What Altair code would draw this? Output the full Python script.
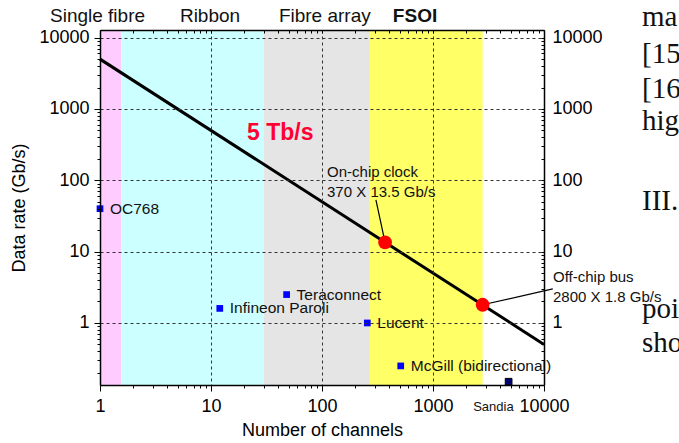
import altair as alt
import pandas as pd

# ---------------- data ----------------
band_start = [1, 1.55, 30, 270]
band_end = [1.55, 30, 270, 2800]
band_color = ["#FFCCFF", "#CCFFFF", "#E5E5E5", "#FFFF66"]

header_text = ["Single fibre", "Ribbon", "Fibre array"]
header_x = [0.95, 9.8, 106]
header_bold_text = ["FSOI"]
header_bold_x = [689]
header_y = 20000

line_x = [1, 10000]
line_y = [5000, 0.5]

red_x = [370, 2800]
red_y = [13.5, 1.8]

sys_name = ["OC768", "Infineon Paroli", "Teraconnect", "Lucent", "McGill (bidirectional)"]
sys_x = [1, 12, 48, 256, 512]
sys_y = [40, 1.6, 2.5, 1.0, 0.25]

sandia_name = ["Sandia"]
sandia_x = [4800]
sandia_y = [0.15]

callout_text = ["On-chip clock", "370 X 13.5 Gb/s", "Off-chip bus", "2800 X 1.8 Gb/s"]
callout_x = [111, 111, 12050, 12050]
callout_y = [132, 69, 4.36, 2.29]

leader_x = [306, 12000]
leader_y = [53, 3.0]
leader_x2 = [370, 2800]
leader_y2 = [13.5, 1.8]

big_text = ["5 Tb/s"]
big_x = [21.1]
big_y = [460]

page_text = ["ma", "[15", "[16", "hig", "III.", "poi", "sho"]
page_x = [76400] * 7
page_y = [14500, 4420, 1426, 507, 38.4, 1.17, 0.391]

x_ticks = [m * 10 ** k for k in range(4) for m in range(1, 10)] + [10000]
y_ticks = [round(m * 10 ** k, 6) for k in range(-1, 4) for m in range(1, 10) if m * 10 ** k > 0.135] + [10000]

# ---------------- style ----------------
W, H = 444, 355
FONT = "Liberation Sans"
MAJ = "abs(log(datum.value)/LN10 - round(log(datum.value)/LN10)) < 0.001"
LAB = f"({MAJ}) ? format(datum.value, 'd') : ''"

xs = alt.Scale(type="log", domain=[1, 10000], nice=False)
ys = alt.Scale(type="log", domain=[0.135, 12800], nice=False)

x_bottom = alt.Axis(
    orient="bottom", values=x_ticks, labelExpr=LAB, labelFlush=False,
    tickSize={"condition": {"test": MAJ, "value": 6}, "value": 3},
    grid=True, gridDash=[3, 3], gridColor="#333333", gridWidth=1,
    gridOpacity={"condition": {"test": MAJ, "value": 1}, "value": 0},
    labelPadding=6, title="Number of channels", titlePadding=6, zindex=1,
    domainColor="black", domainWidth=1.5, tickColor="black",
    labelFont=FONT, labelFontSize=18, labelColor="black", labelOverlap=False,
    titleFont=FONT, titleFontSize=18, titleFontWeight="normal", titleColor="black",
)
y_left = alt.Axis(
    orient="left", values=y_ticks, labelExpr=LAB, labelFlush=False,
    tickSize={"condition": {"test": MAJ, "value": 6}, "value": 3},
    grid=True, gridDash=[3, 3], gridColor="#333333", gridWidth=1,
    gridOpacity={"condition": {"test": MAJ, "value": 1}, "value": 0},
    labelPadding=5, title="Data rate (Gb/s)", titlePadding=10, zindex=1,
    domainColor="black", domainWidth=1.5, tickColor="black",
    labelFont=FONT, labelFontSize=18, labelColor="black", labelOverlap=False,
    titleFont=FONT, titleFontSize=18, titleFontWeight="normal", titleColor="black",
)
x_top = alt.Axis(
    orient="top", values=x_ticks, labels=False, grid=False, title=None,
    tickSize=alt.ExprRef(expr="-3"), domainColor="black", domainWidth=1.5,
    tickColor="black", zindex=1,
)
y_right = alt.Axis(
    orient="right", values=y_ticks, labelExpr=LAB, labelFlush=False, grid=False,
    title=None, tickSize=alt.ExprRef(expr="-3"), labelPadding=11,
    domainColor="black", domainWidth=1.5, tickColor="black",
    labelFont=FONT, labelFontSize=18, labelColor="black", labelOverlap=False, zindex=1,
)


def X(field, axis=None):
    return alt.X(field, type="quantitative", scale=xs, axis=axis)


def Y(field, axis=None):
    return alt.Y(field, type="quantitative", scale=ys, axis=axis)


# ---------------- layers ----------------
bands = alt.Chart(pd.DataFrame({"s": band_start, "e": band_end, "c": band_color})).mark_rect().encode(
    x=X("s"), x2="e",
    y=alt.value(0), y2=alt.value(H),
    color=alt.Color("c:N", scale=None),
)

line = alt.Chart(pd.DataFrame({"x": line_x, "y": line_y})).mark_line(
    color="black", strokeWidth=3
).encode(x=X("x", x_bottom), y=Y("y", y_left))

leaders = alt.Chart(pd.DataFrame({"x": leader_x, "y": leader_y, "x2": leader_x2, "y2": leader_y2})).mark_rule(
    color="black", strokeWidth=1.2
).encode(x=X("x", x_top), y=Y("y", y_right), x2="x2", y2="y2")

reds = alt.Chart(pd.DataFrame({"x": red_x, "y": red_y})).mark_circle(
    size=190, color="#FF0000", opacity=1
).encode(x=X("x"), y=Y("y"))

blues = alt.Chart(pd.DataFrame({"x": sys_x, "y": sys_y, "n": sys_name})).mark_square(
    size=45, color="#0000FF", opacity=1
).encode(x=X("x"), y=Y("y"))

blue_labels = alt.Chart(pd.DataFrame({"x": sys_x, "y": sys_y, "n": sys_name})).mark_text(
    align="left", baseline="middle", dx=10, font=FONT, fontSize=15.5, color="#111111"
).encode(x=X("x"), y=Y("y"), text="n:N")

sandia = alt.Chart(pd.DataFrame({"x": sandia_x, "y": sandia_y})).mark_square(
    size=45, fill="#000070", stroke="black", strokeWidth=1, opacity=1
).encode(x=X("x"), y=Y("y"))

sandia_label = alt.Chart(pd.DataFrame({"x": sandia_x, "y": sandia_y, "n": sandia_name})).mark_text(
    align="right", baseline="middle", dx=5, dy=25, font=FONT, fontSize=13, color="#111111"
).encode(x=X("x"), y=Y("y"), text="n:N")

callouts = alt.Chart(pd.DataFrame({"x": callout_x, "y": callout_y, "t": callout_text})).mark_text(
    align="left", baseline="middle", font=FONT, fontSize=15, color="#111111"
).encode(x=X("x"), y=Y("y"), text="t:N")

big = alt.Chart(pd.DataFrame({"x": big_x, "y": big_y, "t": big_text})).mark_text(
    align="left", baseline="middle", font=FONT, fontSize=23, fontWeight="bold", color="#FF0033"
).encode(x=X("x"), y=Y("y"), text="t:N")

headers = alt.Chart(pd.DataFrame({"x": header_x, "y": [header_y] * len(header_x), "t": header_text})).mark_text(
    align="center", baseline="middle", font=FONT, fontSize=19, color="#111111"
).encode(x=X("x"), y=Y("y"), text="t:N")

headers_b = alt.Chart(pd.DataFrame({"x": header_bold_x, "y": [header_y], "t": header_bold_text})).mark_text(
    align="center", baseline="middle", font=FONT, fontSize=19, fontWeight="bold", color="#111111"
).encode(x=X("x"), y=Y("y"), text="t:N")

page = alt.Chart(pd.DataFrame({"x": page_x, "y": page_y, "t": page_text})).mark_text(
    align="left", baseline="alphabetic", font="Liberation Serif", fontSize=29, color="#111111"
).encode(x=X("x"), y=Y("y"), text="t:N")

chart = alt.layer(
    bands, line, leaders, reds, blues, sandia, blue_labels, sandia_label,
    callouts, big, headers, headers_b, page,
).resolve_axis(x="independent", y="independent").properties(
    width=W, height=H,
    autosize=alt.AutoSizeParams(type="none"),
    padding={"left": 100, "top": 30, "right": 135, "bottom": 58},
    background="white",
).configure_view(stroke=None)

chart.save("out.html", embed_options={"renderer": "svg", "actions": False})
